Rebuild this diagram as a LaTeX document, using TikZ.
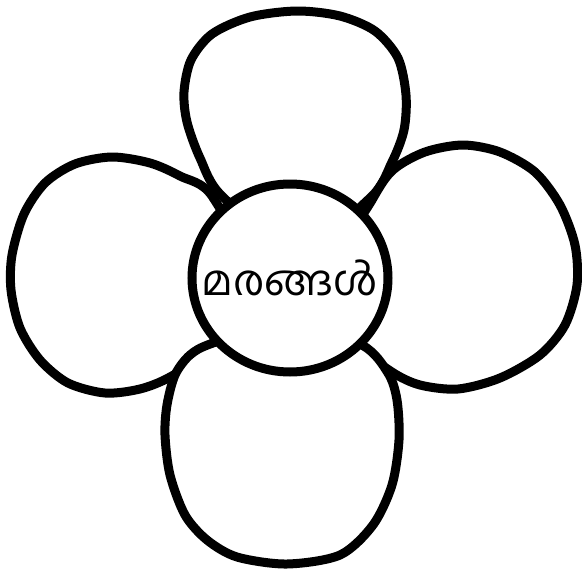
\documentclass[tikz,border=0pt]{standalone}
\usepackage{fontspec}
\newfontfamily\malfont[Script=Malayalam]{Hind Kochi}
\usetikzlibrary{shapes.geometric}

\begin{document}
\begin{tikzpicture}[
  x=1pt, y=-1pt,
  petal/.style={draw, fill=white, line width=9pt, line join=round},
  core/.style={ellipse, draw, fill=white, line width=9pt, inner sep=0pt,
               minimum width=196pt, minimum height=188pt},
  word/.style={inner sep=0pt, font=\malfont\fontsize{42}{48}\selectfont},
]
\useasboundingbox (0,0) rectangle (582,573);

% petals (their inner ends are hidden by the core)
\draw[petal] plot[smooth cycle] coordinates {(222,196) (200,158) (187,122)
  (184,92) (191,60) (212,34) (250,17) (297,11) (340,16) (375,31) (398,58)
  (406,95) (404,130) (392,162) (370,198) (296,250)};
\draw[petal] plot[smooth cycle] coordinates {(212,196) (180,176) (150,163)
  (112,157) (75,164) (45,183) (24,214) (12,255) (11,290) (20,328) (40,360)
  (68,383) (105,393) (140,389) (170,377) (205,352) (250,280)};
\draw[petal] plot[smooth cycle] coordinates {(372,200) (393,170) (425,152)
  (463,145) (500,152) (535,172) (560,205) (575,245) (577,285) (565,325)
  (540,355) (500,378) (458,389) (420,385) (392,372) (365,348) (330,280)};
\draw[petal] plot[smooth cycle] coordinates {(213,343) (190,355) (175,375)
  (167,405) (165,435) (170,475) (185,515) (207,540) (237,557) (287,564)
  (340,555) (373,525) (392,485) (399,440) (397,400) (388,373) (362,345)
  (290,320)};

% centre
\node[core] (core) at (290,278) {};
\node[word] (trees) at (core) {മരങ്ങൾ};
\end{tikzpicture}
\end{document}
